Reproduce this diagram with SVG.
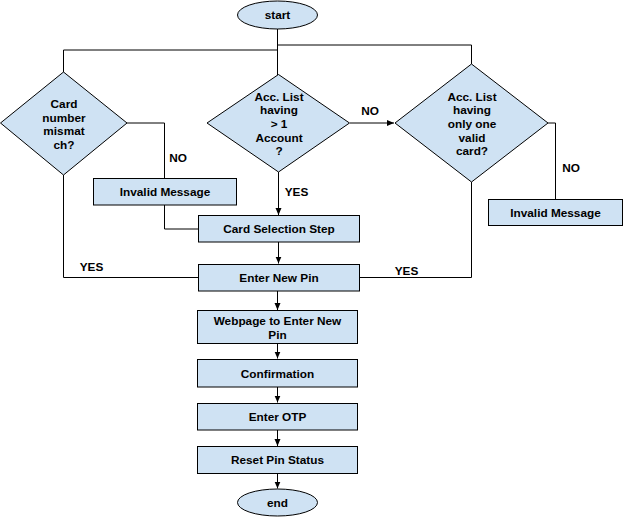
<svg xmlns="http://www.w3.org/2000/svg" width="624" height="517" viewBox="0 0 624 517">
<style>
.n{fill:#cfe2f3;stroke:#000;stroke-width:1}
.t{font-family:"Liberation Sans",Arial,sans-serif;font-weight:bold;font-size:11.8px;fill:#000;text-anchor:middle}
.c{fill:none;stroke:#000;stroke-width:1}
</style>
<defs>
<marker id="a" markerWidth="8" markerHeight="8" refX="7" refY="4" orient="auto" markerUnits="userSpaceOnUse">
<path d="M0,1 L7,4 L0,7 Z" fill="#000"/>
</marker>
</defs>
<g id="connectors">
<path class="c" d="M277.5,29 V50"/>
<path class="c" d="M277.5,50 H63.5 V73"/>
<path class="c" d="M277.5,45 H471.5 V64"/>
<path class="c" d="M277.5,50 V75"/>
<path class="c" d="M127,123 H164.5 V178"/>
<path class="c" d="M164.5,205 V229 H198"/>
<path class="c" d="M278.5,172 V215" marker-end="url(#a)"/>
<path class="c" d="M350,123 H394" marker-end="url(#a)"/>
<path class="c" d="M548,123 H555.5 V199"/>
<path class="c" d="M278.5,242 V263.5" marker-end="url(#a)"/>
<path class="c" d="M63.5,175 V277.5 H198"/>
<path class="c" d="M471.5,182 V277.5 H359"/>
<path class="c" d="M277.5,291 V310" marker-end="url(#a)"/>
<path class="c" d="M277.5,343.5 V358.5" marker-end="url(#a)"/>
<path class="c" d="M277.5,387 V402.5" marker-end="url(#a)"/>
<path class="c" d="M277.5,430 V446" marker-end="url(#a)"/>
<path class="c" d="M277.5,473.5 V488.5" marker-end="url(#a)"/>
<text class="t" x="178" y="162">NO</text>
<text class="t" x="370" y="115">NO</text>
<text class="t" x="571" y="172">NO</text>
<text class="t" x="296.5" y="195.5">YES</text>
<text class="t" x="91.5" y="271">YES</text>
<text class="t" x="406.5" y="274.5">YES</text>
</g>
<g id="start"><ellipse class="n" cx="277.5" cy="15" rx="40" ry="14"/><text class="t" x="277.5" y="19">start</text></g>
<g id="d1"><polygon class="n" points="63.5,72 127,123 63.5,175 0.5,123"/>
<text class="t" x="64" y="107.5">Card</text><text class="t" x="64" y="121.5">number</text><text class="t" x="64" y="135">mismat</text><text class="t" x="64" y="149">ch?</text></g>
<g id="d2"><polygon class="n" points="278.5,74.5 349.5,123 278.5,172 207,123"/>
<text class="t" x="279" y="100.5">Acc. List</text><text class="t" x="279" y="114">having</text><text class="t" x="279" y="128">&gt; 1</text><text class="t" x="279" y="141.5">Account</text><text class="t" x="279" y="155">?</text></g>
<g id="d3"><polygon class="n" points="471.5,64 548,123 471.5,182 395,123"/>
<text class="t" x="472" y="100.5">Acc. List</text><text class="t" x="472" y="114">having</text><text class="t" x="472" y="128">only one</text><text class="t" x="472" y="141.5">valid</text><text class="t" x="472" y="155">card?</text></g>
<g id="inv1"><rect class="n" x="93.5" y="178.5" width="143" height="26.5"/><text class="t" x="165" y="196">Invalid Message</text></g>
<g id="inv2"><rect class="n" x="488.5" y="199.5" width="134" height="26"/><text class="t" x="555.5" y="217">Invalid Message</text></g>
<g id="card"><rect class="n" x="198.5" y="215.5" width="161" height="26.5"/><text class="t" x="279" y="233">Card Selection Step</text></g>
<g id="pin"><rect class="n" x="198.5" y="264.5" width="161" height="26.5"/><text class="t" x="279" y="282">Enter New Pin</text></g>
<g id="web"><rect class="n" x="197.5" y="310.5" width="160" height="33"/><text class="t" x="277.5" y="325">Webpage to Enter New</text><text class="t" x="277.5" y="338.5">Pin</text></g>
<g id="conf"><rect class="n" x="197.5" y="359.5" width="160" height="27.5"/><text class="t" x="277.5" y="377.5">Confirmation</text></g>
<g id="otp"><rect class="n" x="197.5" y="403.5" width="160" height="26.5"/><text class="t" x="277.5" y="421">Enter OTP</text></g>
<g id="reset"><rect class="n" x="197.5" y="446.5" width="160" height="27"/><text class="t" x="277.5" y="464">Reset Pin Status</text></g>
<g id="end"><ellipse class="n" cx="277.5" cy="502.5" rx="40" ry="13.5"/><text class="t" x="277.5" y="506.5">end</text></g>
</svg>
